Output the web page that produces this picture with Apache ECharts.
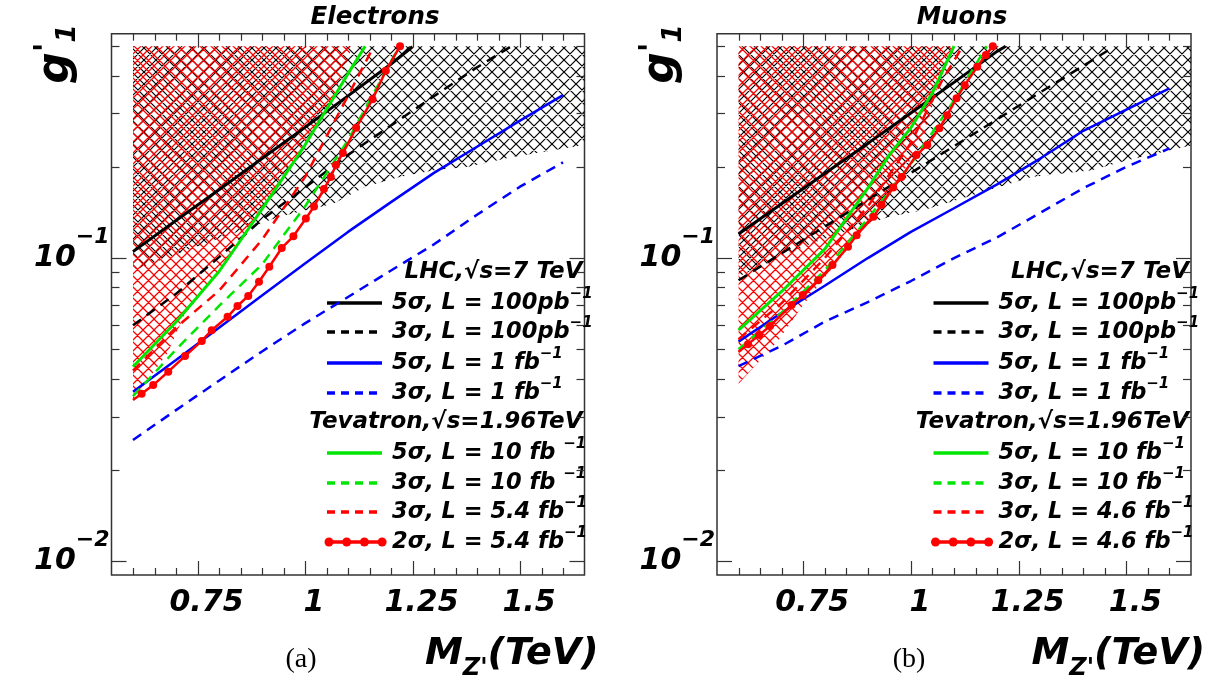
<!DOCTYPE html>
<html><head><meta charset="utf-8">
<script src="https://cdn.jsdelivr.net/npm/echarts@6/dist/echarts.min.js"></script>
<style>html,body{margin:0;padding:0;background:#fff}#c{width:1217px;height:685px}</style>
</head><body><div id="c"></div>
<script>
// ---------------- DATA ----------------
const xLabelValues = [0.75, 1, 1.25, 1.5];
const xLabelTexts = ['0.75', '1', '1.25', '1.5'];
const xMinorTicks = [0.6, 0.65, 0.7, 0.8, 0.85, 0.9, 0.95, 1.05, 1.1, 1.15, 1.2, 1.3, 1.35, 1.4, 1.45, 1.55, 1.6];
const yLabelValues = [0.01, 0.1];
const yLabelExponents = ['\u22122', '\u22121'];
const yMinorTicks = [0.02, 0.03, 0.04, 0.05, 0.06, 0.07, 0.08, 0.09, 0.2, 0.3, 0.4, 0.5];

// Electrons panel
const e_lhc5_100pb = [[0.6,0.105],[0.7,0.133],[0.8,0.168],[0.9,0.213],[1.0,0.270],[1.1,0.343],[1.2,0.437],[1.25,0.498]];
const e_lhc3_100pb = [[0.6,0.060],[0.7,0.0762],[0.8,0.1007],[0.9,0.134],[1.0,0.171],[1.1,0.219],[1.2,0.274],[1.3,0.342],[1.4,0.426],[1.48,0.50]];
const e_lhc5_1fb = [[0.6,0.0362],[0.7,0.0461],[0.8,0.0589],[0.9,0.0752],[1.0,0.096],[1.1,0.122],[1.2,0.153],[1.3,0.191],[1.4,0.233],[1.5,0.284],[1.6,0.345]];
const e_lhc3_1fb = [[0.6,0.0251],[0.7,0.0315],[0.8,0.0394],[0.9,0.0492],[1.0,0.0609],[1.1,0.0744],[1.2,0.091],[1.3,0.111],[1.4,0.139],[1.5,0.172],[1.6,0.207]];
const e_tev5_10fb = [[0.6,0.0438],[0.7,0.0615],[0.8,0.0903],[0.9,0.145],[1.0,0.236],[1.1,0.406],[1.14,0.5]];
const e_tev3_10fb = [[0.6,0.035],[0.7,0.0499],[0.8,0.0695],[0.9,0.0953],[1.0,0.148],[1.1,0.245],[1.2,0.445],[1.22,0.5]];
const e_tev3_54fb = [[0.6,0.0425],[0.7,0.059],[0.8,0.078],[0.9,0.115],[1.0,0.185],[1.1,0.343],[1.16,0.5]];
const e_tev2_54fb = [[0.6,0.034],[0.62,0.0357],[0.647,0.0381],[0.682,0.0422],[0.721,0.0475],[0.76,0.0533],[0.783,0.0578],[0.82,0.064],[0.843,0.0695],[0.868,0.075],[0.893,0.0835],[0.917,0.0936],[0.946,0.108],[0.973,0.118],[1.002,0.135],[1.021,0.148],[1.044,0.169],[1.06,0.185],[1.072,0.203],[1.088,0.222],[1.119,0.269],[1.157,0.334],[1.188,0.415],[1.221,0.5]];
const e_hatchBlack = [[0.6,0.5],[1.65,0.5],[1.65,0.236],[1.48,0.215],[1.38,0.2],[1.3,0.195],[1.22,0.185],[1.14,0.172],[1.066,0.151],[0.94,0.137],[0.8,0.116],[0.7,0.103],[0.6,0.091]];
const e_hatchRed = [[0.6,0.5],[1.11,0.5],[1.066,0.34],[1.0,0.236],[0.9,0.145],[0.8,0.09],[0.72,0.065],[0.68,0.0485],[0.6,0.034]];

// Muons panel
const m_lhc5_100pb = [[0.6,0.12],[0.7,0.151],[0.8,0.19],[0.9,0.239],[1.0,0.301],[1.1,0.38],[1.2,0.481],[1.22,0.5]];
const m_lhc3_100pb = [[0.6,0.0845],[0.7,0.1037],[0.8,0.127],[0.9,0.1556],[1.0,0.191],[1.1,0.234],[1.2,0.287],[1.3,0.352],[1.4,0.431],[1.47,0.497]];
const m_lhc5_1fb = [[0.6,0.053],[0.7,0.066],[0.8,0.081],[0.9,0.1],[1.0,0.122],[1.1,0.146],[1.2,0.175],[1.3,0.213],[1.4,0.263],[1.5,0.309],[1.6,0.363]];
const m_lhc3_1fb = [[0.6,0.044],[0.7,0.0513],[0.8,0.0617],[0.9,0.0716],[1.0,0.084],[1.1,0.1],[1.2,0.117],[1.3,0.141],[1.4,0.17],[1.5,0.2],[1.6,0.23]];
const m_tev5_10fb = [[0.6,0.0578],[0.7,0.0776],[0.8,0.107],[0.9,0.17],[0.95,0.219],[1.0,0.269],[1.05,0.351],[1.1,0.5]];
const m_tev3_10fb = [[0.6,0.050],[0.7,0.066],[0.8,0.091],[0.9,0.135],[1.0,0.204],[1.1,0.331],[1.176,0.5]];
const m_tev3_46fb = [[0.6,0.054],[0.7,0.071],[0.8,0.1],[0.9,0.148],[1.0,0.24],[1.07,0.38],[1.12,0.5]];
const m_tev2_46fb = [[0.6,0.049],[0.622,0.052],[0.648,0.0557],[0.673,0.0597],[0.723,0.070],[0.749,0.0755],[0.785,0.0845],[0.818,0.0948],[0.854,0.109],[0.874,0.119],[0.913,0.137],[0.932,0.150],[0.959,0.171],[0.978,0.185],[1.013,0.219],[1.038,0.236],[1.066,0.268],[1.084,0.296],[1.106,0.337],[1.125,0.372],[1.154,0.428],[1.174,0.468],[1.19,0.5]];
const m_hatchBlack = [[0.6,0.5],[1.65,0.5],[1.65,0.235],[1.5,0.21],[1.42,0.195],[1.28,0.185],[1.13,0.159],[1.03,0.144],[0.95,0.137],[0.77,0.112],[0.6,0.087]];
const m_hatchRed = [[0.6,0.5],[1.10,0.5],[1.06,0.36],[1.03,0.25],[0.98,0.19],[0.93,0.148],[0.874,0.117],[0.818,0.093],[0.75,0.07],[0.69,0.053],[0.6,0.0385]];

const panelTitles = ['Electrons', 'Muons'];
const panelTags = ['(a)', '(b)'];
const legendLabels = [
  ['LHC,\u221As=7 TeV', '5\u03C3, L = 100pb', '3\u03C3, L = 100pb', '5\u03C3, L = 1 fb', '3\u03C3, L = 1 fb', 'Tevatron,\u221As=1.96TeV', '5\u03C3, L = 10 fb ', '3\u03C3, L = 10 fb ', '3\u03C3, L = 5.4 fb', '2\u03C3, L = 5.4 fb'],
  ['LHC,\u221As=7 TeV', '5\u03C3, L = 100pb', '3\u03C3, L = 100pb', '5\u03C3, L = 1 fb', '3\u03C3, L = 1 fb', 'Tevatron,\u221As=1.96TeV', '5\u03C3, L = 10 fb', '3\u03C3, L = 10 fb', '3\u03C3, L = 4.6 fb', '2\u03C3, L = 4.6 fb']
];

// ---------------- STYLE / LAYOUT ----------------
const X_MIN = 0.55, X_MAX = 1.65, Y_MIN = 0.009, Y_MAX = 0.55;
const FONT = 'DejaVu Sans';
const GRIDS = [{left:111.5, top:33.7, width:473, height:541.3, titleX:375, tagX:301}, {left:717, top:33.7, width:474, height:541.3, titleX:962, tagX:909}];
const BLACK = '#000000', BLUE = '#0000ff', GREEN = '#00e600', RED = '#ff0000';

function makeHatch(color, size, lw) {
  const c = document.createElement('canvas');
  c.width = size; c.height = size;
  const g = c.getContext('2d');
  g.strokeStyle = color; g.lineWidth = lw;
  g.beginPath();
  for (let k = -1; k <= 1; k++) {
    g.moveTo(k * size, 0); g.lineTo(k * size + size, size);
    g.moveTo(k * size + size, 0); g.lineTo(k * size, size);
  }
  g.stroke();
  return c;
}
const patBlack = {image: makeHatch('#000', 12, 1.2), repeat: 'repeat'};
const patRed = {image: makeHatch('#ff0000', 11, 1.25), repeat: 'repeat'};

function hatchSeries(gi, poly, pattern, z) {
  return {type:'custom', xAxisIndex:gi, yAxisIndex:gi, silent:true, animation:false, z:z,
    data:[poly[0]],
    renderItem: function (params, api) {
      return {type:'polygon', shape:{points: poly.map(function (p) { return api.coord(p); })},
        style:{fill: pattern, stroke: null}};
    }};
}

function lineSeries(gi, data, color, width, dashed, dots) {
  return {type:'line', xAxisIndex:gi, yAxisIndex:gi, silent:true, animation:false, z:3,
    data: data.map(function (p, i) { return (dots && i === 0) ? {value:p, symbol:'none'} : p; }),
    showSymbol: !!dots, symbol: dots ? 'circle' : 'none', symbolSize: 8,
    itemStyle:{color: color}, lineStyle:{color: color, width: width, type: dashed ? [10, 7] : 'solid'}};
}

function tickSeries(gi, list, axis, len) {
  return {type:'custom', xAxisIndex:gi, yAxisIndex:gi, silent:true, animation:false, z:6, clip:false,
    data: list.map(function (v) { return axis === 'x' ? [v, 0.1] : [1, v]; }),
    renderItem: function (params, api) {
      const cs = params.coordSys;
      const st = {stroke:'#333', lineWidth:1.2};
      const pt = api.coord([api.value(0), api.value(1)]);
      if (axis === 'x') {
        const px = Math.round(pt[0]) + 0.5;
        return {type:'group', children:[
          {type:'line', shape:{x1:px, y1:cs.y + cs.height, x2:px, y2:cs.y + cs.height - len}, style:st},
          {type:'line', shape:{x1:px, y1:cs.y, x2:px, y2:cs.y + len}, style:st}]};
      }
      const py = Math.round(pt[1]) + 0.5;
      return {type:'group', children:[
        {type:'line', shape:{x1:cs.x, y1:py, x2:cs.x + len, y2:py}, style:st},
        {type:'line', shape:{x1:cs.x + cs.width, y1:py, x2:cs.x + cs.width - len, y2:py}, style:st}]};
    }};
}

const panels = [
  {hb:e_hatchBlack, hr:e_hatchRed, s:[e_lhc5_100pb, e_lhc3_100pb, e_lhc5_1fb, e_lhc3_1fb, e_tev5_10fb, e_tev3_10fb, e_tev3_54fb, e_tev2_54fb]},
  {hb:m_hatchBlack, hr:m_hatchRed, s:[m_lhc5_100pb, m_lhc3_100pb, m_lhc5_1fb, m_lhc3_1fb, m_tev5_10fb, m_tev3_10fb, m_tev3_46fb, m_tev2_46fb]}
];
const seriesStyles = [
  {color:BLACK, width:3, dashed:false},
  {color:BLACK, width:2.5, dashed:true},
  {color:BLUE, width:2.5, dashed:false},
  {color:BLUE, width:2.5, dashed:true},
  {color:GREEN, width:3, dashed:false},
  {color:GREEN, width:2.5, dashed:true},
  {color:RED, width:2.5, dashed:true},
  {color:RED, width:2.5, dashed:false, dots:true}
];

const series = [];
panels.forEach(function (p, gi) {
  series.push(hatchSeries(gi, p.hb, patBlack, 1));
  series.push(hatchSeries(gi, p.hr, patRed, 2));
  p.s.forEach(function (d, k) {
    const st = seriesStyles[k];
    series.push(lineSeries(gi, d, st.color, st.width, st.dashed, st.dots));
  });
  series.push(tickSeries(gi, xLabelValues, 'x', 14));
  series.push(tickSeries(gi, xMinorTicks, 'x', 7));
  series.push(tickSeries(gi, yLabelValues, 'y', 15));
  series.push(tickSeries(gi, yMinorTicks, 'y', 8));
});

function tok(size, extra) {
  return Object.assign({fontFamily:FONT, fontWeight:'bold', fontStyle:'italic', fontSize:size, fill:'#000', color:'#000'}, extra || {});
}

const graphic = [];
const rowsY = [272, 303, 332, 363, 393, 422, 453, 483, 512, 542];
const entryStyleIdx = [null, 0, 1, 2, 3, null, 4, 5, 6, 7];
GRIDS.forEach(function (g, gi) {
  const right = g.left + g.width;
  // titles
  graphic.push({type:'text', x: g.titleX, y: 18, style:{text: panelTitles[gi], font:'italic bold 24.5px "DejaVu Sans"', fill:'#000', align:'center', verticalAlign:'middle'}});
  graphic.push({type:'text', x: g.tagX, y: 660, style:{text: panelTags[gi], font:'28px "Liberation Serif"', fill:'#000', align:'center', verticalAlign:'middle'}});
  // x title
  graphic.push({type:'text', x: right + 14, y: 658, style:{text:'{m|M}{z|Z\'}{m|(TeV)}', align:'right', verticalAlign:'middle',
    rich:{m: tok(38, {lineHeight:46, verticalAlign:'top'}), z: tok(24, {lineHeight:24, verticalAlign:'bottom'})}}});
  // y title
  graphic.push({type:'text', x: g.left - 55, y: 54, rotation: Math.PI / 2, style:{text:'{g|g}{p|\'}{s|1}', align:'center', verticalAlign:'middle',
    rich:{g: tok(44, {lineHeight:50}), p: tok(32, {lineHeight:32, verticalAlign:'top'}), s: tok(26, {lineHeight:26, verticalAlign:'bottom'})}}});
  // legend
  const lx0 = right - 257.5, lx1 = right - 202.5, tx = right - 192.5;
  legendLabels[gi].forEach(function (lab, r) {
    const y = rowsY[r];
    const si = entryStyleIdx[r];
    if (si === null) {
      graphic.push({type:'text', x: right - 2, y: y, style:{text: lab, align:'right', verticalAlign:'middle', font:'italic bold 23px "DejaVu Sans"', fill:'#000'}});
      return;
    }
    const st = seriesStyles[si];
    graphic.push({type:'line', shape:{x1:lx0, y1:y, x2:lx1, y2:y}, style:{stroke: st.color, lineWidth: 3.5, lineDash: st.dashed ? [8, 6] : null}});
    if (st.dots) {
      for (let k = 0; k < 4; k++) graphic.push({type:'circle', shape:{cx: lx0 + 2 + k * 17.7, cy: y, r: 4.5}, style:{fill: st.color}});
    }
    graphic.push({type:'text', x: tx, y: y, style:{text: '{m|' + lab + '}{s|\u22121}', align:'left', verticalAlign:'middle',
      rich:{m: tok(22.5, {lineHeight:32}), s: tok(15, {lineHeight:15, verticalAlign:'top'})}}});
  });
});

const option = {
  backgroundColor:'#fff',
  animation:false,
  grid: GRIDS.map(function (g) { return {left:g.left, top:g.top, width:g.width, height:g.height, show:true, borderColor:'#333', borderWidth:1.5, backgroundColor:'transparent'}; }),
  xAxis: GRIDS.map(function (g, gi) { return {type:'value', gridIndex:gi, min:X_MIN, max:X_MAX, interval:0.05,
    axisLine:{show:false}, axisTick:{show:false}, splitLine:{show:false},
    axisLabel:{margin:13, formatter: function (v) {
      const i = xLabelValues.findIndex(function (m) { return Math.abs(m - v) < 1e-6; });
      return i < 0 ? '' : '{t|' + xLabelTexts[i] + '}'; },
      rich:{t: tok(30, {padding:[0, 0, 0, 18]})}}}; }),
  yAxis: GRIDS.map(function (g, gi) { return {type:'log', logBase:10, gridIndex:gi, min:Y_MIN, max:Y_MAX,
    axisLine:{show:false}, axisTick:{show:false}, splitLine:{show:false}, minorTick:{show:false},
    axisLabel:{margin:2, formatter: function (v) {
      const i = yLabelValues.findIndex(function (m) { return Math.abs(Math.log10(m) - Math.log10(v)) < 1e-6; });
      return i < 0 ? '' : '{b|10}{s|' + yLabelExponents[i] + '}'; },
      rich:{b: tok(30, {lineHeight:64}), s: tok(22, {lineHeight:22, verticalAlign:'top'})}}}; }),
  series: series,
  graphic: graphic
};
const chart = echarts.init(document.getElementById('c'));
chart.setOption(option);
</script></body></html>
